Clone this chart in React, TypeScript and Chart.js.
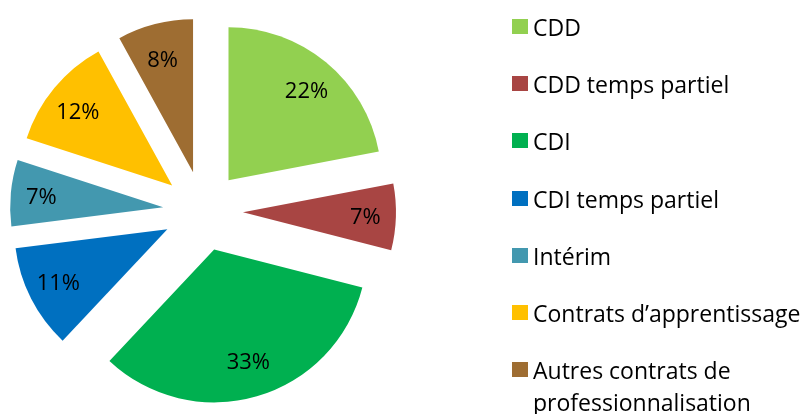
import React, { useEffect, useRef } from "react";
import { Chart, registerables } from "chart.js";

Chart.register(...registerables);

const categories = [
  "CDD",
  "CDD temps partiel",
  "CDI",
  "CDI temps partiel",
  "Intérim",
  "Contrats d\u2019apprentissage",
  "Autres contrats de professionnalisation",
];
const values = [22, 7, 33, 11, 7, 12, 8];
const colors = ["#92D050", "#A84543", "#00B050", "#0070C0", "#4398AF", "#FFC000", "#9E6D32"];

const FONT = "'Open Sans', sans-serif";
const LABEL_SIZE = 22;
const LEGEND_SIZE = 23;
const EXPLODE = 40;

const explodePlugin = {
  id: "explode",
  beforeDatasetDraw(chart: any, args: any) {
    const ctx = chart.ctx;
    const meta = args.meta;
    const total = values.reduce((a, b) => a + b, 0);
    meta.data.forEach((arc: any, i: number) => {
      const { startAngle, endAngle, outerRadius, x, y } = arc.getProps(
        ["startAngle", "endAngle", "outerRadius", "x", "y"],
        true
      );
      const mid = (startAngle + endAngle) / 2;
      const dx = Math.cos(mid) * EXPLODE;
      const dy = Math.sin(mid) * EXPLODE;
      ctx.save();
      ctx.translate(dx, dy);
      arc.draw(ctx);
      ctx.restore();
      const pct = Math.round((values[i] / total) * 100) + "%";
      const rx = outerRadius * 0.8;
      const ry = outerRadius * 0.76;
      ctx.save();
      ctx.fillStyle = "#000";
      ctx.font = LABEL_SIZE + "px " + FONT;
      ctx.textAlign = "center";
      ctx.textBaseline = "alphabetic";
      ctx.fillText(
        pct,
        x + dx + Math.cos(mid) * rx,
        y + dy + Math.sin(mid) * ry + LABEL_SIZE * 0.357
      );
      ctx.restore();
    });
    return false;
  },
};

export default function App() {
  const ref = useRef<HTMLCanvasElement>(null);
  useEffect(() => {
    if (!ref.current) return;
    const chart = new Chart(ref.current, {
      type: "pie",
      data: {
        labels: categories,
        datasets: [
          {
            data: values,
            backgroundColor: colors,
            borderWidth: 0,
            radius: 153,
          } as any,
        ],
      },
      options: {
        animation: false,
        responsive: false,
        maintainAspectRatio: false,
        layout: { padding: { left: 0, top: 8, right: 400, bottom: 0 } },
        plugins: { legend: { display: false }, tooltip: { enabled: false } },
      },
      plugins: [explodePlugin as any],
    });
    return () => chart.destroy();
  }, []);

  return (
    <div style={{ position: "fixed", left: 0, top: 0, width: 806, height: 414, background: "#fff", overflow: "hidden" }}>
      <canvas ref={ref} width={806} height={414} style={{ position: "absolute", left: 0, top: 0 }} />
      {categories.map((c, i) => (
        <div key={c}>
          <div
            style={{
              position: "absolute",
              left: 512,
              top: 27 + i * 57.2 - 8,
              width: 16,
              height: 15,
              background: colors[i],
            }}
          />
          <div
            style={{
              position: "absolute",
              left: 533,
              top: 27 + i * 57.2 - 16,
              width: 272,
              font: LEGEND_SIZE + "px " + FONT,
              lineHeight: "32px",
              color: "#000",
              whiteSpace: "normal",
              fontVariantLigatures: "none",
            }}
          >
            {c}
          </div>
        </div>
      ))}
    </div>
  );
}
